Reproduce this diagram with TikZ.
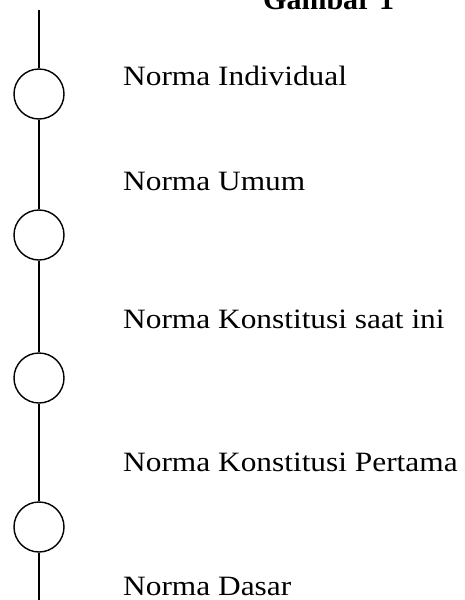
\documentclass[tikz,border=0pt]{standalone}
\usepackage{fontspec}
\setmainfont{Liberation Serif}
\begin{document}
\begin{tikzpicture}[x=1pt,y=-1pt,
  ring/.style={draw,circle,minimum size=50pt,inner sep=0pt,line width=1.4pt},
  lbl/.style={anchor=base west,inner sep=0pt,font=\fontsize{28}{30}\selectfont},
  stem/.style={line width=1.4pt}]
\useasboundingbox (0,0) rectangle (464,600);
\coordinate (top) at (39,10);
\coordinate (bot) at (39,602);
\node[ring] (c1) at (39,94) {};
\node[ring] (c2) at (39,235) {};
\node[ring] (c3) at (39,378) {};
\node[ring] (c4) at (39,527) {};
\draw[stem] (top) -- (c1.north);
\draw[stem] (c1.south) -- (c2.north);
\draw[stem] (c2.south) -- (c3.north);
\draw[stem] (c3.south) -- (c4.north);
\draw[stem] (c4.south) -- (bot);
\node[lbl] (t1) at (123,85) {\scalebox{1.12}[1]{Norma Individual}};
\node[lbl] (t2) at (123,190) {\scalebox{1.12}[1]{Norma Umum}};
\node[lbl] (t3) at (123,328) {\scalebox{1.12}[1]{Norma Konstitusi saat ini}};
\node[lbl] (t4) at (123,471) {\scalebox{1.12}[1]{Norma Konstitusi Pertama}};
\node[lbl] (t5) at (123,595) {\scalebox{1.12}[1]{Norma Dasar}};
\node[anchor=base west,inner sep=0pt,font=\bfseries\fontsize{30}{32}\selectfont] (title) at (263,9) {Gambar 1};
\end{tikzpicture}
\end{document}
